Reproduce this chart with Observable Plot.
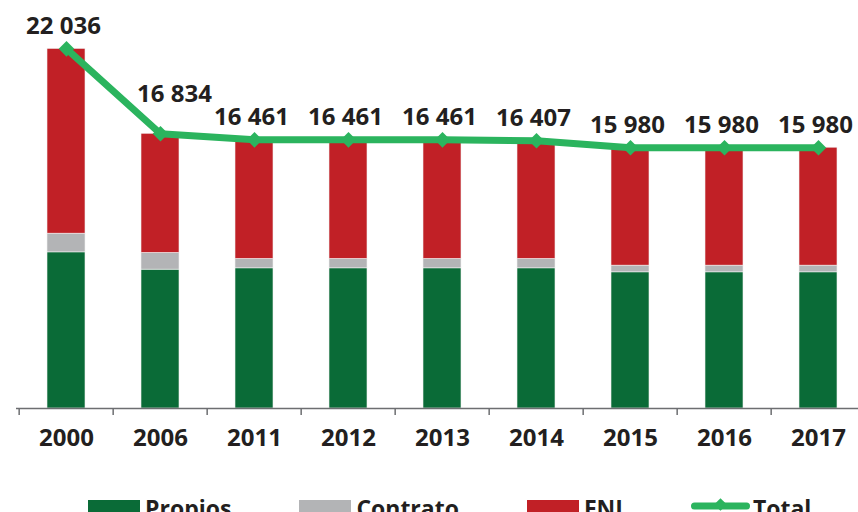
<!DOCTYPE html>
<html>
<head>
<meta charset="utf-8">
<script src="https://cdn.jsdelivr.net/npm/d3@7"></script>
<script src="https://cdn.jsdelivr.net/npm/@observablehq/plot@0.6"></script>
<style>
  html, body { margin: 0; padding: 0; background: #fff; overflow: hidden; width: 858px; height: 512px; }
  #wrap { position: relative; width: 858px; height: 512px; overflow: hidden; font-family: "Open Sans", sans-serif; }
  #chart svg { max-width: none !important; display: block; }
  #legend { position: absolute; left: 88px; top: 500px; display: flex; gap: 68px; white-space: nowrap; }
  .item { display: flex; align-items: flex-start; }
  .sw { display: inline-block; width: 52px; height: 16px; margin-right: 5px; position: relative; }
  .sw.tl { width: 59px; margin-right: 3px; }
  .lab { font-size: 23px; font-weight: 700; color: #231f20; line-height: 16px; margin-top: 0px; }
</style>
</head>
<body>
<div id="wrap">
  <div id="chart"></div>
  <div id="legend"></div>
</div>
<script>
const years = ["2000", "2006", "2011", "2012", "2013", "2014", "2015", "2016", "2017"];
const propios  = [9567, 8508, 8588, 8588, 8588, 8588, 8343, 8343, 8343];
const contrato = [1145, 1022,  575,  575,  575,  575,  410,  410,  410];
const fni      = [11324, 7304, 7298, 7298, 7298, 7244, 7227, 7227, 7227];
const totals   = [22036, 16834, 16461, 16461, 16461, 16407, 15980, 15980, 15980];
const seriesNames = ["Propios", "Contrato", "FNI"];
const seriesColors = ["#0a6b37", "#b3b4b6", "#c12026"];
const totalName = "Total";
const totalColor = "#2bb45e";

const rows = [];
years.forEach((y, i) => {
  rows.push({year: y, series: "Propios", value: propios[i]});
  rows.push({year: y, series: "Contrato", value: contrato[i]});
  rows.push({year: y, series: "FNI", value: fni[i]});
});
const totalRows = years.map((y, i) => ({year: y, total: totals[i]}));
const fmt = v => d3.format(",d")(v).replace(/,/g, " ");

const W = 870, H = 490, mL = 16, mR = 2;
const step = (W - mL - mR) / years.length;
const textColor = "#231f20";
const fs = 24;

const plot = Plot.plot({
  width: W, height: H,
  marginLeft: mL, marginRight: mR, marginTop: 0, marginBottom: 82,
  style: {fontFamily: "Open Sans, sans-serif", background: "#fff", overflow: "visible", maxWidth: "none"},
  x: {domain: years, paddingInner: 0.6, paddingOuter: 0.3, axis: null, label: null},
  y: {domain: [0, 25000], axis: null},
  color: {domain: seriesNames, range: seriesColors},
  marks: [
    Plot.barY(rows, {x: "year", y: "value", fill: "series", stroke: "#f2f2f2", strokeWidth: 0.6}),
    Plot.ruleY([0], {stroke: "#6d6e71", strokeWidth: 1.5}),
    Plot.ruleX(years, {x: d => d, y1: 0, y2: 0, insetBottom: -7, dx: -step / 2, stroke: "#6d6e71", strokeWidth: 1.5}),
    Plot.axisX({tickSize: 0, tickPadding: 20, fontSize: fs, fontWeight: 700, fill: textColor, label: null}),
    Plot.line(totalRows, {x: "year", y: "total", stroke: totalColor, strokeWidth: 7, strokeLinejoin: "round"}),
    Plot.dot(totalRows, {x: "year", y: "total", symbol: "diamond2", r: 7, fill: totalColor, stroke: null}),
    Plot.text(totalRows.filter(d => d.year !== "2006"), {x: "year", y: "total", text: d => fmt(d.total), dy: -15, dx: -3, lineAnchor: "bottom", fontSize: fs, fontWeight: 700, fill: textColor}),
    Plot.text(totalRows.filter(d => d.year === "2006"), {x: "year", y: "total", text: d => fmt(d.total), dy: -32, dx: 14, lineAnchor: "bottom", fontSize: fs, fontWeight: 700, fill: textColor})
  ]
});
document.getElementById("chart").appendChild(plot);

const legend = document.getElementById("legend");
seriesNames.forEach((name, i) => {
  const it = document.createElement("div");
  it.className = "item";
  it.innerHTML = `<span class="sw" style="background:${seriesColors[i]}"></span><span class="lab">${name}</span>`;
  legend.appendChild(it);
});
const it = document.createElement("div");
it.className = "item";
it.innerHTML = `<span class="sw tl"><svg width="59" height="16" style="position:absolute;left:0;top:0;overflow:visible">
  <line x1="3.5" y1="6" x2="55.5" y2="6" stroke="${totalColor}" stroke-width="7" stroke-linecap="round"/>
  <rect x="25" y="0" width="9" height="9" transform="rotate(45 29.5 4.5)" fill="${totalColor}"/></svg></span><span class="lab">${totalName}</span>`;
legend.appendChild(it);
</script>
</body>
</html>
